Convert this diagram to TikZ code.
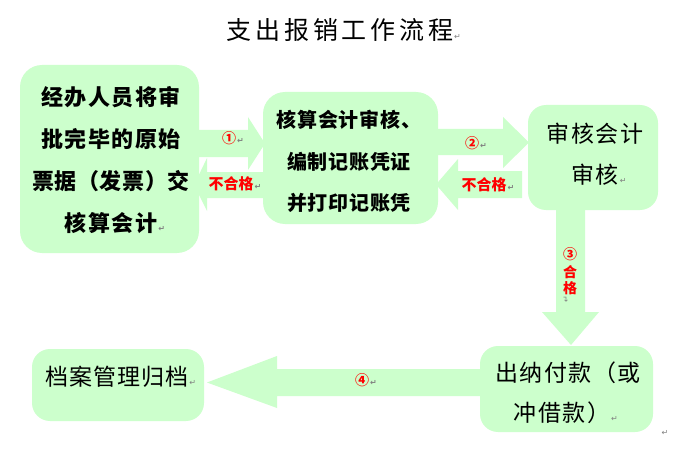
\documentclass[tikz,border=0pt]{standalone}
\usepackage{fontspec}
\setmainfont{Noto Sans CJK SC}
\newfontfamily\djv{DejaVu Sans}
\definecolor{boxgreen}{HTML}{CCFFCC}
\definecolor{retgray}{HTML}{808080}
\definecolor{lblred}{HTML}{FF0000}
\newcommand{\retmark}{{\djv\color{retgray}\fontsize{8}{8}\selectfont ↵}}
\newcommand{\rmk}{\rlap{\kern1pt\retmark}}
\tikzset{
  gbox/.style={fill=boxgreen, draw=none, rounded corners=18pt, inner sep=0pt},
  garrow/.style={fill=boxgreen, draw=none},
  titletext/.style={inner sep=0pt, font=\fontsize{25}{25}\selectfont\addfontfeatures{LetterSpace=15}},
  onetext/.style={inner sep=0pt, font=\bfseries\fontsize{22}{22}\selectfont\addfontfeatures{LetterSpace=7}},
  twotext/.style={inner sep=0pt, font=\bfseries\fontsize{20}{20}\selectfont\addfontfeatures{LetterSpace=4}},
  threetext/.style={inner sep=0pt, font=\fontsize{23}{23}\selectfont\addfontfeatures{LetterSpace=8}},
  fourtext/.style={inner sep=0pt, font=\fontsize{23}{23}\selectfont\addfontfeatures{LetterSpace=6}},
  fivetext/.style={inner sep=0pt, font=\fontsize{23}{23}\selectfont\addfontfeatures{LetterSpace=4}},
  numlbl/.style={inner sep=0pt, text=lblred, font=\bfseries\fontsize{14}{14}\selectfont},
  redlbl/.style={inner sep=0pt, text=lblred, font=\bfseries\fontsize{15}{15}\selectfont},
}
\begin{document}
\begin{tikzpicture}[x=1pt,y=-1pt]
\useasboundingbox (0,0) rectangle (681,460);
\fill[white] (0,0) rectangle (681,460);

% block arrows
\fill[garrow] (195,130) -- (248,130) -- (248,117) -- (265,143.5) -- (248,170) -- (248,157) -- (195,157) -- cycle;
\fill[garrow] (266,172) -- (207,172) -- (207,158) -- (194,185) -- (207,211) -- (207,198) -- (266,198) -- cycle;
\fill[garrow] (434,129) -- (503,129) -- (503,117) -- (529,142.5) -- (503,168) -- (503,155) -- (434,155) -- cycle;
\fill[garrow] (522,171) -- (458,171) -- (458,159) -- (436,184.5) -- (458,210) -- (458,198) -- (522,198) -- cycle;
\fill[garrow] (556,206) -- (556,312) -- (542,312) -- (571,345) -- (599,312) -- (585,312) -- (585,206) -- cycle;
\fill[garrow] (484,369) -- (277,369) -- (277,356) -- (207,382.5) -- (277,408) -- (277,396) -- (484,396) -- cycle;

% boxes
\node[gbox, minimum width=179pt, minimum height=188pt, rounded corners=22pt] (b1) at (109.5,159) {};
\node[gbox, minimum width=175pt, minimum height=132pt, rounded corners=22pt] (b2) at (350.5,158) {};
\node[gbox, minimum width=130pt, minimum height=105pt] (b3) at (593,157.5) {};
\node[gbox, minimum width=173pt, minimum height=86pt] (b4) at (566.5,389) {};
\node[gbox, minimum width=172pt, minimum height=72pt] (b5) at (118,385) {};

% title
\node[titletext] (title) at (340,30) {支出报销工作流程\rmk};

% box 1 text
\node[onetext] (t11) at (111,97) {经办人员将审};
\node[onetext] (t12) at (111,139) {批完毕的原始};
\node[onetext, font=\bfseries\fontsize{22}{22}\selectfont\addfontfeatures{LetterSpace=3}] (t13) at (111,181) {票据（发票）交};
\node[onetext] (t14) at (111,223) {核算会计\rmk};

% box 2 text
\node[twotext] (t21) at (349,120) {核算会计审核、};
\node[twotext] (t22) at (349,162) {编制记账凭证};
\node[twotext] (t23) at (349,203) {并打印记账凭};

% box 3 text
\node[threetext] (t31) at (595,134) {审核会计};
\node[threetext] (t32) at (595,175) {审核\rmk};

% box 4 text
\node[fourtext] (t41) at (568,373) {出纳付款（或};
\node[fourtext] (t42) at (562,413) {冲借款）\rmk};

% box 5 text
\node[fivetext] (t51) at (117,377) {档案管理归档\rmk};

% labels
\node[numlbl] (l1) at (229,138) {①\rmk};
\node[redlbl] (l1b) at (231,184) {不合格\rmk};
\node[numlbl] (l2) at (472,143) {②\rmk};
\node[redlbl] (l2b) at (484,185) {不合格\rmk};
\node[numlbl] (l3) at (570,254) {③};
\node[redlbl, font=\bfseries\fontsize{14}{14}\selectfont] (l3a) at (570,272) {合};
\node[redlbl, font=\bfseries\fontsize{14}{14}\selectfont] (l3b) at (570,288) {格};
\node[inner sep=0pt, rotate=90] (l3r) at (566,299) {\retmark};
\node[numlbl] (l4) at (362,380) {④\rmk};
\node[inner sep=0pt] (endmark) at (665,433) {\retmark};
\end{tikzpicture}
\end{document}
